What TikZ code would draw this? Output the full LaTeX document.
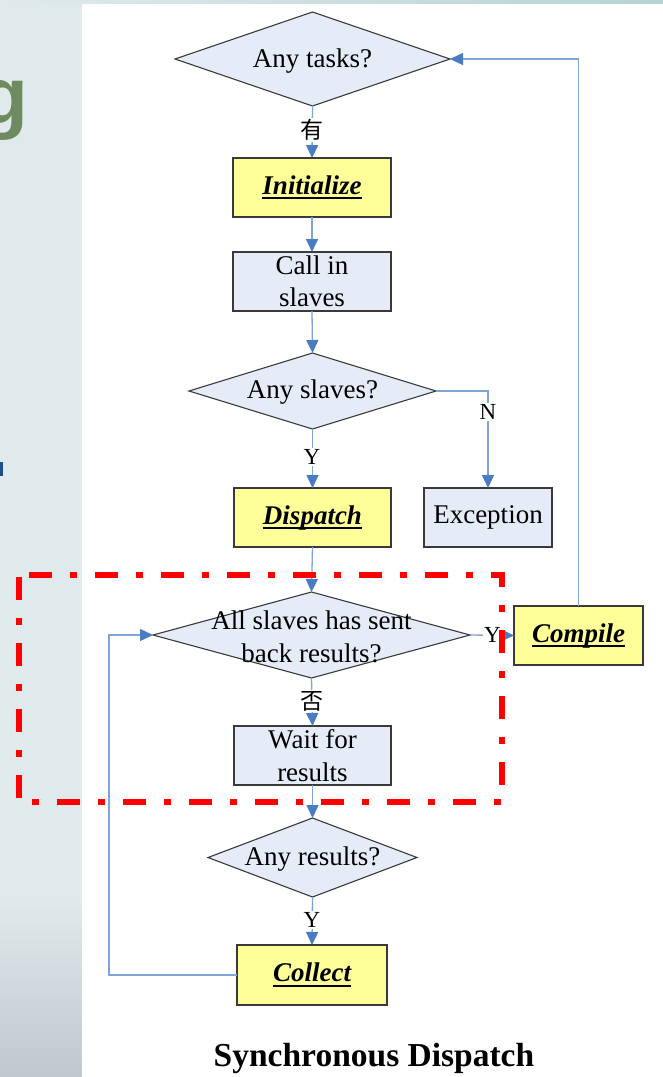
\documentclass[tikz,border=0pt]{standalone}
\usepackage{fontspec}
\setmainfont{Liberation Serif}
\newfontfamily\cjkfont{Noto Sans CJK SC}
\newfontfamily\slidefont{Liberation Sans}
\usetikzlibrary{shapes.geometric,arrows.meta}

\definecolor{slidebg}{HTML}{E0EAEC}
\definecolor{slidebgdark}{HTML}{BFC8CD}
\definecolor{stripright}{HTML}{B8D3D5}
\definecolor{slidegreen}{HTML}{6F8A5E}
\definecolor{slideblue}{HTML}{1F4E8C}
\definecolor{procfill}{HTML}{E5ECF7}
\definecolor{keyfill}{HTML}{FFFF99}
\definecolor{boxline}{HTML}{3A3A3A}
\definecolor{lineblue}{HTML}{7FA4D9}
\definecolor{arrowblue}{HTML}{4A7CC2}
\definecolor{framered}{HTML}{FF0000}

% font sizes
\newcommand\mainsz{\fontsize{27pt}{32.5pt}\selectfont}
\newcommand\labsz{\fontsize{23pt}{26pt}\selectfont}
\newcommand\titlesz{\fontsize{33.5pt}{38pt}\selectfont}

% bold italic, thick underline for the key steps
\newsavebox\keybox
\newcommand\keystep[1]{\sbox\keybox{\bfseries\itshape #1}%
  \rlap{\rule[-5pt]{\wd\keybox}{2.2pt}}\usebox\keybox}

\begin{document}
\begin{tikzpicture}[x=1pt,y=-1pt,
  proc/.style={rectangle, draw=boxline, line width=1.2pt, fill=procfill,
    inner sep=0pt, outer sep=0pt, align=center, font=\mainsz},
  keyproc/.style={proc, fill=keyfill},
  decision/.style={diamond, draw=boxline, line width=1.1pt, fill=procfill,
    inner sep=0pt, outer sep=0pt},
  dtext/.style={align=center, font=\mainsz, inner sep=0pt},
  conn/.style={draw=lineblue, line width=1.3pt,
    -{Triangle[length=13pt,width=12pt,color=arrowblue]}},
  branch/.style={fill=white, font=\labsz, inner sep=1pt},
  cjkbranch/.style={fill=white, font=\cjkfont\labsz, inner sep=1pt},
  redframe/.style={draw=framered, line width=6pt,
    dash pattern=on 23pt off 18pt on 7pt off 18pt, dash phase=55.5pt}
]
\useasboundingbox (0,0) rectangle (663,1077);

% slide background with the white panel
\fill[slidebg] (0,0) rectangle (82,900);
\shade[top color=slidebg, bottom color=slidebgdark] (0,899.5) rectangle (82,1077);
\shade[left color=slidebg, right color=stripright] (0,0) rectangle (663,4);
\begin{scope}
  \clip (0,0) rectangle (82,1077);
  \node[anchor=base west, inner sep=0pt, text=slidegreen,
    font=\slidefont\bfseries\fontsize{80pt}{90pt}\selectfont] (gl) at (-21,123) {g};
  \fill[slideblue] (0,462) rectangle (2.5,476);
\end{scope}
\fill[white] (82,4) rectangle (663,1077);

% flow chart nodes
\node[decision, minimum width=275pt, minimum height=94pt] (tasks) at (312.5,59) {};
\node[dtext] (tasksT) at (312.5,61) {Any tasks?};

\node[keyproc, minimum width=158pt, minimum height=59pt] (init) at (312,187.5) {\keystep{Initialize}};
\node[proc, minimum width=158pt, minimum height=59pt] (call) at (312,281.5) {Call in\\slaves};

\node[decision, minimum width=247pt, minimum height=76pt] (slaves) at (312.5,391) {};
\node[dtext] (slavesT) at (312.5,392.5) {Any slaves?};

\node[keyproc, minimum width=157pt, minimum height=59pt] (disp) at (312.5,517.5) {\keystep{Dispatch}};
\node[proc, minimum width=128pt, minimum height=59pt] (exc) at (488,517.5) {Exception};

\node[decision, minimum width=317pt, minimum height=86pt] (sent) at (311.5,635) {};
\node[dtext] (sentT) at (311.5,637) {All slaves has sent\\back results?};

\node[keyproc, minimum width=129pt, minimum height=59pt] (comp) at (578.5,635.5) {\keystep{Compile}};

\node[proc, minimum width=157pt, minimum height=59pt] (wait) at (312.5,755.5) {Wait for\\results};

\node[decision, minimum width=209pt, minimum height=79pt] (res) at (312.5,857.5) {};
\node[dtext] (resT) at (312.5,859) {Any results?};

\node[keyproc, minimum width=150pt, minimum height=60pt] (coll) at (312,975) {\keystep{Collect}};

\coordinate (loopx) at (109,800);

% connectors
\draw[conn] (tasks.south) -- (init.north);
\draw[conn] (init.south) -- (call.north);
\draw[conn] (call.south) -- (slaves.north);
\draw[conn] (slaves.east) -| (exc.north);
\draw[conn] (slaves.south) -- (disp.north);
\draw[conn] (disp.south) -- (sent.north);
\draw[conn] (sent.east) -- (comp.west);
\draw[conn] (comp.north) |- (tasks.east);
\draw[conn] (sent.south) -- (wait.north);
\draw[conn] (wait.south) -- (res.north);
\draw[conn] (res.south) -- (coll.north);
\draw[conn] (coll.west) -| (loopx) |- (sent.west);

% branch labels
\node[cjkbranch] (lYou) at (312,130) {有};
\node[branch] (lN) at (488,412) {N};
\node[branch] (lY1) at (312,457) {Y};
\node[branch] (lY2) at (492.5,635) {Y};
\node[cjkbranch] (lFou) at (312,701) {否};
\node[branch] (lY3) at (312,920) {Y};

% highlighted synchronous section
\draw[redframe] (18.5,575) -- (502,575) -- (502,802) -- (18.5,802) -- cycle;

% caption
\node[font=\titlesz\bfseries, inner sep=0pt] (title) at (374,1058) {Synchronous Dispatch};
\end{tikzpicture}
\end{document}
